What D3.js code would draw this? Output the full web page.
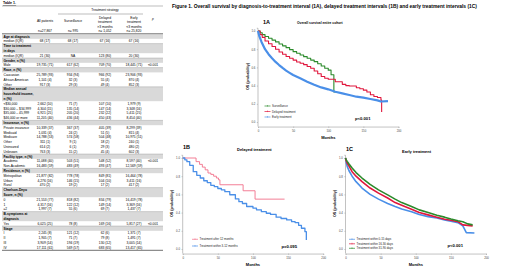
<!DOCTYPE html>
<html>
<head>
<meta charset="utf-8">
<script src="https://cdn.jsdelivr.net/npm/d3@7"></script>
<style>
  body { margin: 0; background: #fff; }
  svg { display: block; font-family: "Liberation Sans", Arial, sans-serif; }
</style>
</head>
<body>
<svg id="chart" width="520" height="279"></svg>
<script>
// ---- survival curves (months, OS probability) ----
const aSurvMonths = [0, 3, 6, 10, 15, 20, 25, 30, 35, 40, 45, 50, 55, 60, 65, 70, 75, 80, 85, 90, 95, 100, 104, 108, 111];
const aSurvOS = [1.0, 0.98, 0.96, 0.94, 0.92, 0.90, 0.88, 0.857, 0.837, 0.817, 0.795, 0.773, 0.755, 0.736, 0.718, 0.70, 0.68, 0.663, 0.64, 0.615, 0.59, 0.57, 0.52, 0.33, 0.33];

const aDelMonths = [0, 3, 6, 10, 15, 20, 25, 30, 35, 40, 45, 50, 55, 60, 65, 70, 75, 80, 85, 90, 95, 100, 110, 120, 125, 130, 140, 145, 150, 155, 160, 165, 170, 175, 176];
const aDelOS = [1.0, 0.96, 0.93, 0.89, 0.86, 0.83, 0.80, 0.77, 0.745, 0.72, 0.70, 0.68, 0.66, 0.645, 0.63, 0.61, 0.59, 0.56, 0.53, 0.50, 0.48, 0.47, 0.443, 0.414, 0.40, 0.395, 0.377, 0.365, 0.35, 0.33, 0.30, 0.28, 0.27, 0.24, 0.11];

const aEarlyMonths = [0, 2, 5, 10, 15, 20, 25, 30, 35, 40, 45, 50, 60, 70, 80, 90, 100, 110, 120, 130, 140, 150, 160, 170, 175, 185];
const aEarlyOS = [1.0, 0.94, 0.88, 0.80, 0.745, 0.70, 0.66, 0.626, 0.594, 0.564, 0.54, 0.516, 0.48, 0.443, 0.41, 0.38, 0.359, 0.333, 0.315, 0.297, 0.278, 0.267, 0.253, 0.238, 0.225, 0.23];

const bAfterMonths = [0, 19, 24, 28, 32, 36, 40, 44, 48, 51, 53, 86, 103, 145];
const bAfterOS = [1.0, 0.96, 0.93, 0.90, 0.87, 0.835, 0.82, 0.80, 0.78, 0.76, 0.706, 0.64, 0.548, 0.548];

const bWithinMonths = [0, 3, 6, 10, 15, 20, 25, 30, 35, 40, 45, 50, 55, 60, 67, 75, 80, 85, 91, 100, 105, 112, 119, 125, 133, 140, 148, 155, 160, 165, 169, 174, 176];
const bWithinOS = [1.0, 0.98, 0.96, 0.92, 0.85, 0.81, 0.78, 0.75, 0.73, 0.70, 0.685, 0.665, 0.65, 0.63, 0.596, 0.55, 0.52, 0.50, 0.467, 0.45, 0.43, 0.41, 0.393, 0.38, 0.35, 0.335, 0.32, 0.30, 0.29, 0.26, 0.228, 0.19, 0.10];

const cMonths = [0, 1, 2.4, 5, 9.4, 15, 23.5, 35, 47, 60, 70.6, 80, 94, 105, 117.6, 130, 141, 150, 160, 167, 174, 181];
const c31to90OS = [1.0, 0.98, 0.963, 0.935, 0.89, 0.84, 0.78, 0.71, 0.65, 0.595, 0.548, 0.51, 0.467, 0.43, 0.40, 0.37, 0.35, 0.33, 0.31, 0.30, 0.276, 0.265];
const c16to30OS = [1.0, 0.97, 0.945, 0.91, 0.85, 0.80, 0.74, 0.67, 0.614, 0.56, 0.51, 0.48, 0.437, 0.40, 0.375, 0.35, 0.327, 0.315, 0.30, 0.265, 0.26, 0.254];
const c0to15Months = [0, 1, 2.4, 5, 9.4, 15, 23.5, 35, 47, 60, 70.6, 80, 94, 105, 117.6, 130, 141, 150, 160, 167, 172, 183.5];
const c0to15OS = [1.0, 0.95, 0.908, 0.86, 0.80, 0.74, 0.67, 0.60, 0.548, 0.50, 0.467, 0.44, 0.41, 0.38, 0.356, 0.34, 0.32, 0.305, 0.29, 0.254, 0.18, 0.175];

const xTicks = [0, 50, 100, 150, 200];
const yTicks = [0, 0.2, 0.4, 0.6, 0.8, 1.0];

// ---- table 1 ----
const colHeads = [
    ["All patients", "", "", "n=27,867"],
    ["Surveillance", "", "", "n= 995"],
    ["Delayed", "treatment", ">3 months", "n= 1,052"],
    ["Early", "treatment", "<3 months", "n= 25,820"]
];
const tableRows = [
    ["sec", "Age at diagnosis"],
    ["row", "median (IQR)", "68 (17)", "68 (17)", "67 (16)", "67 (16)", ""],
    ["sec", "Time to treatment", "in days"],
    ["row", "median (IQR)", "21 (30)", "NA", "123 (80)", "20 (30)", ""],
    ["sec", "Gender, n (%)"],
    ["row", "Male", "19,735 (71)", "617 (62)", "709 (70)", "18,445 (71)", "<0.001"],
    ["sec", "Race, n (%)"],
    ["row", "Caucasian", "25,789 (93)", "934 (94)", "966 (92)", "23,906 (93)", ""],
    ["row", "African American", "1,101 (4)", "32 (3)", "55 (4)", "870 (4)", ""],
    ["row", "Other", "917 (3)", "29 (3)", "49 (4)", "852 (3)", ""],
    ["sec", "Median annual", "household income,", "n (%)"],
    ["row", "<$30,000", "2,662 (10)", "71 (7)", "107 (10)", "1,979 (9)", ""],
    ["row", "$30,000 \u2013 $34,999", "4,304 (15)", "135 (14)", "147 (14)", "3,348 (16)", ""],
    ["row", "$35,000 \u2013 45,999", "6,921 (25)", "205 (20)", "232 (22)", "5,411 (25)", ""],
    ["row", "$46,000 or more", "11,205 (40)", "436 (44)", "450 (43)", "8,454 (40)", ""],
    ["sec", "Insurance, n (%)"],
    ["row", "Private insurance", "10,339 (37)", "367 (37)", "405 (39)", "8,299 (39)", ""],
    ["row", "Medicaid", "1,031 (4)", "24 (2)", "51 (5)", "815 (4)", ""],
    ["row", "Medicare", "14,788 (53)", "574 (58)", "504 (48)", "10,975 (51)", ""],
    ["row", "Other", "311 (1)", "9 (1)", "18 (2)", "240 (1)", ""],
    ["row", "Uninsured", "614 (2)", "6 (1)", "29 (3)", "480 (2)", ""],
    ["row", "Unknown", "763 (3)", "15 (2)", "45 (4)", "602 (3)", ""],
    ["sec", "Facility type, n (%)"],
    ["row", "Academic", "11,088 (40)", "503 (51)", "548 (52)", "8,597 (40)", "<0.001"],
    ["row", "Non-Academic", "16,483 (59)", "483 (49)", "493 (47)", "12,569 (59)", ""],
    ["sec", "Residence, n (%)"],
    ["row", "Metropolitan", "21,877 (82)", "778 (78)", "849 (81)", "16,464 (78)", ""],
    ["row", "Urban", "4,276 (16)", "146 (15)", "104 (10)", "3,411 (16)", ""],
    ["row", "Rural", "470 (2)", "19 (2)", "17 (2)", "417 (2)", ""],
    ["sec", "Charlson-Deyo", "Score, n (%)"],
    ["row", "0", "21,553 (77)", "818 (82)", "834 (79)", "16,419 (78)", ""],
    ["row", "1", "4,317 (16)", "122 (12)", "149 (14)", "3,369 (16)", ""],
    ["row", "\u22652", "1,997 (7)", "55 (6)", "69 (7)", "1,437 (7)", ""],
    ["sec", "B-symptoms at", "diagnosis"],
    ["row", "Yes", "6,025 (25)", "78 (8)", "169 (16)", "5,817 (27)", "<0.001"],
    ["sec", "Stage"],
    ["row", "I", "2,245 (8)", "121 (12)", "62 (6)", "1,371 (7)", ""],
    ["row", "II", "1,905 (7)", "71 (7)", "79 (8)", "1,491 (7)", ""],
    ["row", "III", "3,909 (14)", "194 (19)", "130 (12)", "3,005 (14)", ""],
    ["row", "IV", "17,111 (61)", "569 (57)", "683 (65)", "13,417 (65)", ""]
];

const green = "#2b8a2b", red = "#e0173d", blue = "#4a8fe8", pink = "#f2708a";

const svg = d3.select("#chart");

// ---------------- table ----------------
const tbl = svg.append("g").attr("id", "table1");
const tLeft = 2, tRight = 163, lineH = 4.8, fs = 3.3;
const colX = [45, 73, 105, 134, 153];

tbl.append("text").attr("x", 3).attr("y", 4).attr("font-size", 3.6).attr("font-weight", "bold")
    .attr("text-decoration", "underline").text("Table 1.");
tbl.append("line").attr("x1", tLeft).attr("x2", tRight).attr("y1", 6).attr("y2", 6)
    .attr("stroke", "#555").attr("stroke-width", 0.4);
tbl.append("text").attr("x", 105).attr("y", 11).attr("font-size", fs).attr("text-anchor", "middle")
    .text("Treatment strategy");
tbl.append("line").attr("x1", 58).attr("x2", 143).attr("y1", 14).attr("y2", 14)
    .attr("stroke", "#555").attr("stroke-width", 0.4);

colHeads.forEach((h, i) => {
    const ys = h[1] === "" ? [21.5, 0, 0, 32] : [18.5, 23, 27.5, 32];
    h.forEach((t, j) => {
        if (t === "") return;
        tbl.append("text").attr("x", colX[i]).attr("y", ys[j]).attr("font-size", fs)
            .attr("text-anchor", "middle").text(t);
    });
});
tbl.append("text").attr("x", colX[4]).attr("y", 20).attr("font-size", fs)
    .attr("text-anchor", "middle").attr("font-style", "italic").text("p");
tbl.append("line").attr("x1", tLeft).attr("x2", tRight).attr("y1", 33.6).attr("y2", 33.6)
    .attr("stroke", "#333").attr("stroke-width", 0.5);

let ty = 34;
tableRows.forEach(r => {
    if (r[0] === "sec") {
        const n = r.length - 1;
        tbl.append("rect").attr("x", tLeft).attr("y", ty).attr("width", tRight - tLeft)
            .attr("height", n * lineH).attr("fill", "#d9d9d9");
        tbl.append("line").attr("x1", tLeft).attr("x2", tRight).attr("y1", ty).attr("y2", ty)
            .attr("stroke", "#777").attr("stroke-width", 0.3);
        r.slice(1).forEach((t, k) => {
            tbl.append("text").attr("x", 3.5).attr("y", ty + (k + 0.75) * lineH)
                .attr("font-size", fs).attr("font-weight", "bold").text(t);
        });
        ty += n * lineH;
    } else {
        tbl.append("text").attr("x", 3.5).attr("y", ty + 0.75 * lineH).attr("font-size", fs).text(r[1]);
        r.slice(2).forEach((t, k) => {
            tbl.append("text").attr("x", colX[k]).attr("y", ty + 0.75 * lineH)
                .attr("font-size", fs).attr("text-anchor", "middle").text(t);
        });
        ty += lineH;
    }
});
tbl.append("line").attr("x1", tLeft).attr("x2", tRight).attr("y1", ty + 0.3).attr("y2", ty + 0.3)
    .attr("stroke", "#333").attr("stroke-width", 0.7);

// ---------------- figure title ----------------
svg.append("text").attr("x", 172).attr("y", 8).attr("font-size", 4.9).attr("font-weight", "bold")
    .text("Figure 1. Overall survival by diagnosis-to-treatment interval (1A), delayed treatment intervals (1B) and early treatment intervals (1C)");

// ---------------- KM panels ----------------
function drawPanel(cfg) {
    const g = svg.append("g");
    const x = d3.scaleLinear().domain([0, 200]).range([cfg.x0, cfg.x0 + 140.5]);
    const y = d3.scaleLinear().domain([0, 1]).range([cfg.y0, cfg.y0 - 91]);
    const yBottom = y(-0.05);

    const yAxis = g.append("g").attr("transform", `translate(${cfg.x0},0)`)
        .call(d3.axisLeft(y).tickValues(yTicks).tickFormat(d3.format(".1f")).tickSize(1.2).tickPadding(1.5));
    yAxis.select(".domain").attr("d", `M-1.2,${y(1.03)}H0V${yBottom}`);
    const xAxis = g.append("g").attr("transform", `translate(0,${yBottom})`)
        .call(d3.axisBottom(x).tickValues(xTicks).tickSize(1.2).tickPadding(1.8));
    [yAxis, xAxis].forEach(a => {
        a.selectAll(".domain").attr("stroke", "#999").attr("stroke-width", 0.6);
        a.selectAll(".tick line").attr("stroke", "#999").attr("stroke-width", 0.5);
        a.selectAll("text").attr("font-size", 2.8).attr("fill", "#444")
            .attr("font-family", "Liberation Sans, Arial, sans-serif");
    });

    g.append("text").attr("x", x(100)).attr("y", yBottom + 12).attr("text-anchor", "middle")
        .attr("font-size", 4).attr("font-weight", "bold").text("Months");
    g.append("text").attr("transform", `translate(${cfg.x0 - 9.5},${y(0.5)}) rotate(-90)`)
        .attr("text-anchor", "middle").attr("font-size", 3.6).attr("font-weight", "bold")
        .text("OS (probability)");
    g.append("text").attr("x", cfg.tagX).attr("y", cfg.tagY).attr("font-size", 5.5)
        .attr("font-weight", "bold").text(cfg.tag);
    g.append("text").attr("x", cfg.subX).attr("y", cfg.subY).attr("font-size", cfg.subSize)
        .attr("font-weight", "bold").text(cfg.sub);

    cfg.series.forEach(s => {
        const pts = s.months.map((m, i) => [m, s.os[i]]);
        g.append("path").datum(pts)
            .attr("fill", "none").attr("stroke", s.color).attr("stroke-width", s.width)
            .attr("stroke-linejoin", "round")
            .attr("d", d3.line().x(d => x(d[0])).y(d => y(d[1]))
                .curve(s.step ? d3.curveStepAfter : d3.curveLinear));
    });

    cfg.series.forEach((s, i) => {
        const ly = cfg.legY + i * cfg.legStep;
        g.append("line").attr("x1", cfg.legX).attr("x2", cfg.legX + 6).attr("y1", ly).attr("y2", ly)
            .attr("stroke", s.color).attr("stroke-width", 0.7);
        g.append("line").attr("x1", cfg.legX + 3).attr("x2", cfg.legX + 3).attr("y1", ly - 1).attr("y2", ly + 0.6)
            .attr("stroke", s.color).attr("stroke-width", 0.5);
        g.append("text").attr("x", cfg.legX + 7.5).attr("y", ly + 1).attr("font-size", 2.9)
            .attr("fill", "#222").text(s.name);
    });

    g.append("text").attr("x", cfg.pX).attr("y", cfg.pY).attr("font-size", 4.2)
        .attr("font-weight", "bold").text(cfg.p);
}

drawPanel({
    x0: 258, y0: 122, tag: "1A", tagX: 263, tagY: 24,
    sub: "Overall survival entire cohort", subX: 297, subY: 23.5, subSize: 3.3,
    legX: 264.5, legY: 106, legStep: 5.5, pX: 355, pY: 119.5, p: "p<0.001",
    series: [
        { name: "Surveillance", months: aSurvMonths, os: aSurvOS, color: green, width: 1.1, step: true },
        { name: "Delayed treatment", months: aDelMonths, os: aDelOS, color: red, width: 1.1, step: true },
        { name: "Early treatment", months: aEarlyMonths, os: aEarlyOS, color: blue, width: 2.2, step: false }
    ]
});

drawPanel({
    x0: 182.7, y0: 249, tag: "1B", tagX: 183, tagY: 149,
    sub: "Delayed treatment", subX: 237, subY: 151, subSize: 4,
    legX: 192, legY: 239.3, legStep: 6.7, pX: 281.5, pY: 247.5, p: "p=0.095",
    series: [
        { name: "Treatment after 12 months", months: bAfterMonths, os: bAfterOS, color: pink, width: 0.9, step: true },
        { name: "Treatment within 3-12 months", months: bWithinMonths, os: bWithinOS, color: blue, width: 1.3, step: true }
    ]
});

drawPanel({
    x0: 345.5, y0: 249, tag: "1C", tagX: 346, tagY: 151,
    sub: "Early treatment", subX: 402, subY: 153, subSize: 4,
    legX: 349, legY: 239.3, legStep: 4.5, pX: 447.5, pY: 247, p: "p<0.001",
    series: [
        { name: "Treatment within 0-15 days", months: c0to15Months, os: c0to15OS, color: blue, width: 1.6, step: false },
        { name: "Treatment within 16-30 days", months: cMonths, os: c16to30OS, color: red, width: 1.6, step: false },
        { name: "Treatment within 31-90 days", months: cMonths, os: c31to90OS, color: green, width: 1.6, step: false }
    ]
});
</script>
</body>
</html>
